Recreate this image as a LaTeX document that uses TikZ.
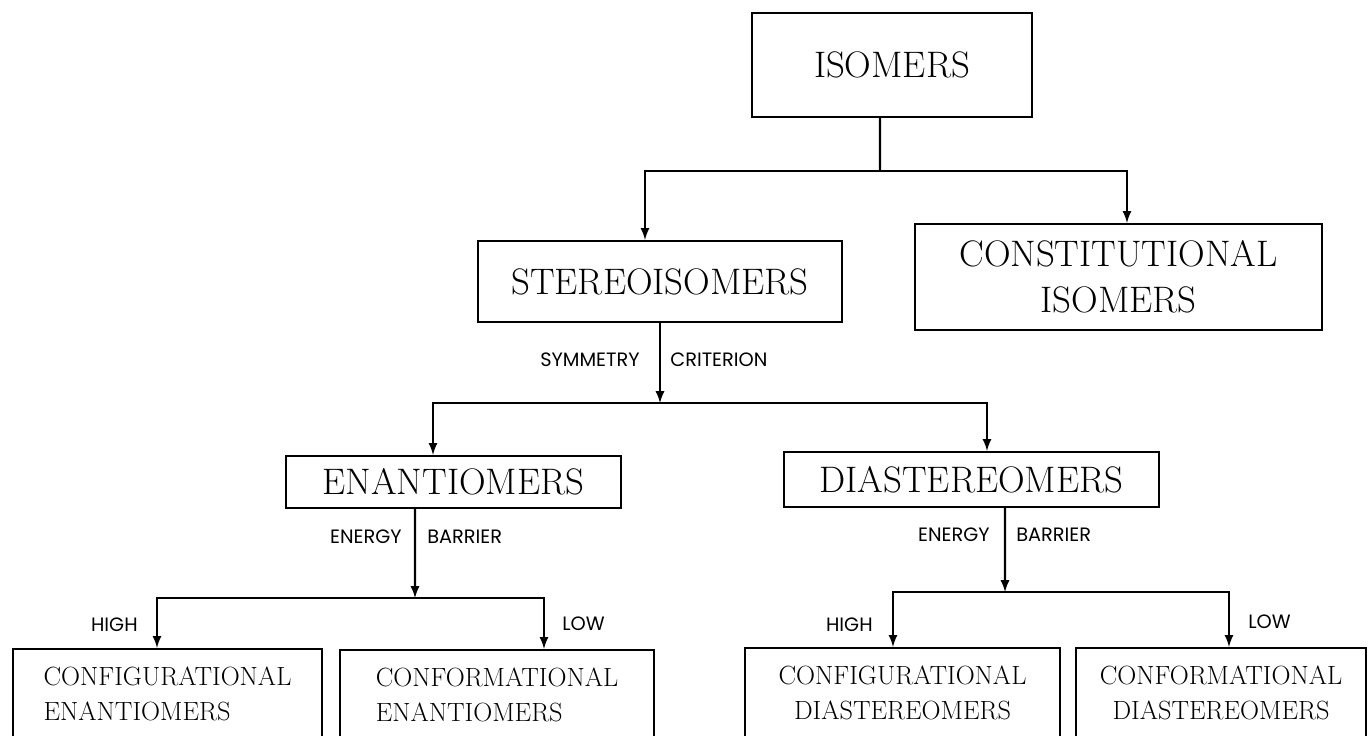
\documentclass[tikz,border=0pt]{standalone}
\usepackage{fontspec}
\newfontfamily\tagfont{Poppins}
\usetikzlibrary{arrows,positioning}

\begin{document}
\begin{tikzpicture}[x=0.02cm,y=-0.02cm]
    \tikzstyle{BoxStyle}=[draw, line width=1.3pt, align=center, font=\fontsize{21}{26}\selectfont]
    \tikzstyle{LeafStyle}=[draw, line width=1.3pt, minimum height=1.8cm, inner xsep=2pt, font=\fontsize{15}{20}\selectfont]
    \tikzstyle{EdgeStyle}=[line width=1.3pt, -latex]
    \tikzstyle{TagStyle}=[inner sep=0pt, font=\tagfont\fontsize{11}{13}\selectfont]
    \useasboundingbox (0,0) rectangle (1369,735);
    % boxes
    \node[BoxStyle, minimum width=5.6cm, minimum height=2.08cm] (isomers) at (892,65) {ISOMERS};
    \node[BoxStyle, minimum width=7.28cm, minimum height=1.62cm] (stereo) at (660,281.5) {STEREOISOMERS};
    \node[BoxStyle, minimum width=8.14cm, minimum height=2.12cm] (constit) at (1118.5,277) {CONSTITUTIONAL\\ISOMERS};
    \node[BoxStyle, minimum width=6.7cm, minimum height=1.04cm] (enant) at (453.5,482) {ENANTIOMERS};
    \node[BoxStyle, minimum width=7.5cm, minimum height=1.1cm] (diast) at (971.5,479.5) {DIASTEREOMERS};
    \node[LeafStyle, align=left, minimum width=6.18cm] (cfgEn) at (167.5,694) {CONFIGURATIONAL\\ENANTIOMERS};
    \node[LeafStyle, align=left, minimum width=6.28cm] (cfmEn) at (497,695) {CONFORMATIONAL\\ENANTIOMERS};
    \node[LeafStyle, align=center, minimum width=6.3cm] (cfgDi) at (902.5,693) {CONFIGURATIONAL\\DIASTEREOMERS};
    \node[LeafStyle, align=center, minimum width=5.8cm] (cfmDi) at (1221,693) {CONFORMATIONAL\\DIASTEREOMERS};
    % forks
    \coordinate (topfork) at (880,171);
    \coordinate (stereofork) at (660,403);
    \coordinate (enantfork) at (415,598);
    \coordinate (diastfork) at (1005,592);
    % isomers
    \draw[line width=1.3pt] ([xshift=-0.24cm]isomers.south) -- (topfork);
    \draw[EdgeStyle] (topfork) -| ([xshift=-0.3cm]stereo.north);
    \draw[EdgeStyle] (topfork) -| ([xshift=0.17cm]constit.north);
    % stereoisomers
    \draw[EdgeStyle] (stereo.south) -- (stereofork);
    \draw[EdgeStyle] (stereofork) -| ([xshift=-0.41cm]enant.north);
    \draw[EdgeStyle] (stereofork) -| ([xshift=0.31cm]diast.north);
    \node[TagStyle, anchor=east] (symtag) at (640,360) {SYMMETRY};
    \node[TagStyle, anchor=west] (crittag) at (670,360) {CRITERION};
    % enantiomers
    \draw[EdgeStyle] ([xshift=-0.77cm]enant.south) -- (enantfork);
    \draw[EdgeStyle] (enantfork) -| ([xshift=-0.21cm]cfgEn.north);
    \draw[EdgeStyle] (enantfork) -| ([xshift=0.94cm]cfmEn.north);
    \node[TagStyle, anchor=east] (enertagA) at (402,537) {ENERGY};
    \node[TagStyle, anchor=west] (bartagA) at (427,537) {BARRIER};
    \node[TagStyle, anchor=east] (hightagA) at (138,625) {HIGH};
    \node[TagStyle, anchor=west] (lowtagA) at (562,624) {LOW};
    % diastereomers
    \draw[EdgeStyle] ([xshift=0.67cm]diast.south) -- (diastfork);
    \draw[EdgeStyle] (diastfork) -| ([xshift=-0.19cm]cfgDi.north);
    \draw[EdgeStyle] (diastfork) -| ([xshift=0.16cm]cfmDi.north);
    \node[TagStyle, anchor=east] (enertagB) at (990,535) {ENERGY};
    \node[TagStyle, anchor=west] (bartagB) at (1016,535) {BARRIER};
    \node[TagStyle, anchor=east] (hightagB) at (873,625) {HIGH};
    \node[TagStyle, anchor=west] (lowtagB) at (1248,622) {LOW};
\end{tikzpicture}
\end{document}
